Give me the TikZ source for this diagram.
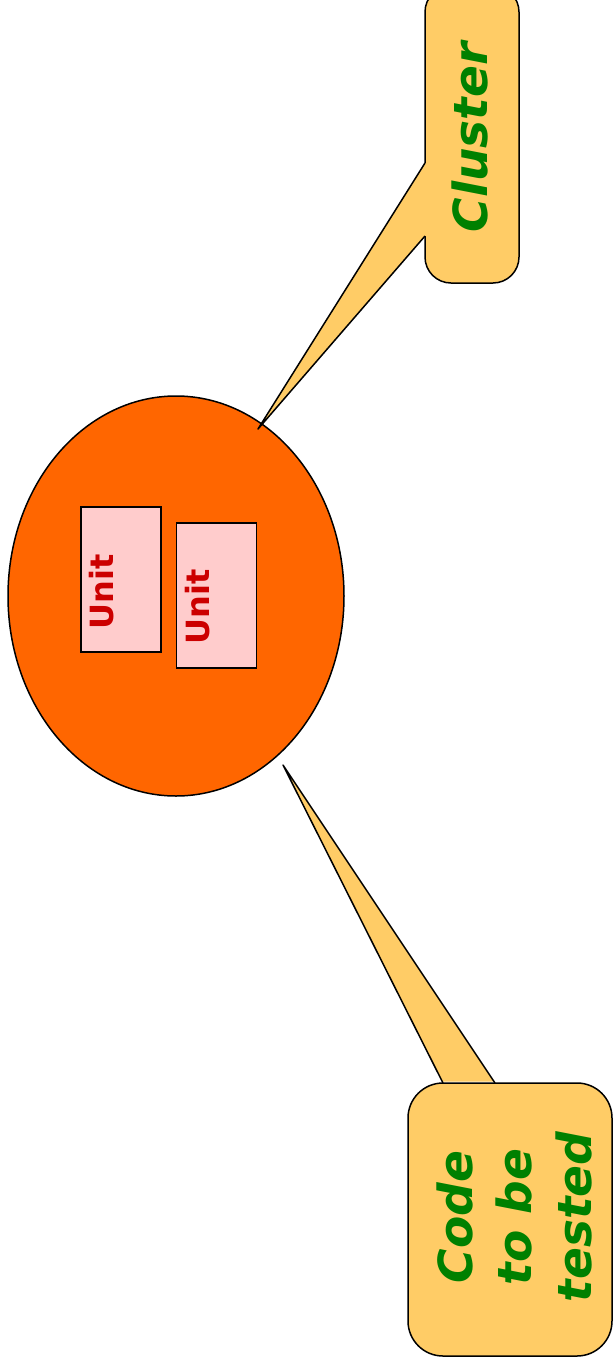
\documentclass[tikz,border=0pt]{standalone}
\usepackage{fontspec}
\usetikzlibrary{shapes.geometric}
\newfontfamily\dvs{DejaVu Sans}[BoldFont={DejaVu Sans Bold},ItalicFont={DejaVu Sans Oblique},BoldItalicFont={DejaVu Sans Bold Oblique}]
\definecolor{corefill}{HTML}{FF6600}
\definecolor{unitfill}{HTML}{FFCCCC}
\definecolor{unitred}{HTML}{CC0000}
\definecolor{bubblefill}{HTML}{FFCC66}
\definecolor{labelgreen}{HTML}{008000}
\begin{document}
\begin{tikzpicture}[x=1pt,y=-1pt,line width=1.5pt,
  unitbox/.style={draw=black,fill=unitfill,rotate=90,minimum width=145pt,minimum height=80pt,inner sep=0pt},
  unitlabel/.style={rotate=90,anchor=base,text=unitred,inner sep=0pt,font=\dvs\bfseries\fontsize{32}{38}\selectfont},
  bubble/.style={draw=black,fill=bubblefill,rounded corners=#1,rotate=90,inner sep=0pt},
  bubbletext/.style={rotate=90,text=labelgreen,inner sep=0pt,font=\dvs\bfseries\itshape\fontsize{47}{59.5}\selectfont},
  wedgeedge/.style={draw=black,line join=round}
]
\useasboundingbox (0,0) rectangle (613,1368);

% the code under test with its units
\node[ellipse,draw=black,fill=corefill,minimum width=336pt,minimum height=400pt,inner sep=0pt] (core) at (176,596) {};
\node[unitbox] (u1) at (121,579.5) {};
\node[unitbox] (u2) at (216.5,595.5) {};
\node[unitlabel] (u1t) at ([shift={(-8,12)}]u1.center) {Unit};
\node[unitlabel] (u2t) at ([shift={(-7.5,11.5)}]u2.center) {Unit};

% speech bubbles
\node[bubble=26,minimum width=297pt,minimum height=94pt] (cluster) at (472,134.5) {};
\node[bubbletext,anchor=base] (clustertext) at (487,137.5) {Cluster};
\node[bubble=35,minimum width=273pt,minimum height=204pt] (code) at (510,1219.5) {};
\node[bubbletext,align=center] (codetext) at (514,1217) {Code\\to be\\tested};

% bubble pointers
\coordinate (clustertip) at (258,429);
\coordinate (cla) at (425,163);
\coordinate (clb) at (425,236);
\fill[bubblefill] (clustertip) -- (cla) -- ([xshift=1.5]cla) -- ([xshift=1.5]clb) -- (clb) -- cycle;
\draw[wedgeedge] (cla) -- (clustertip) -- (clb);

\coordinate (codetip) at (283,765);
\coordinate (cda) at (443,1083);
\coordinate (cdb) at (495,1083);
\fill[bubblefill] (codetip) -- (cda) -- ([yshift=1.5]cda) -- ([yshift=1.5]cdb) -- (cdb) -- cycle;
\draw[wedgeedge] (cda) -- (codetip) -- (cdb);
\end{tikzpicture}
\end{document}
